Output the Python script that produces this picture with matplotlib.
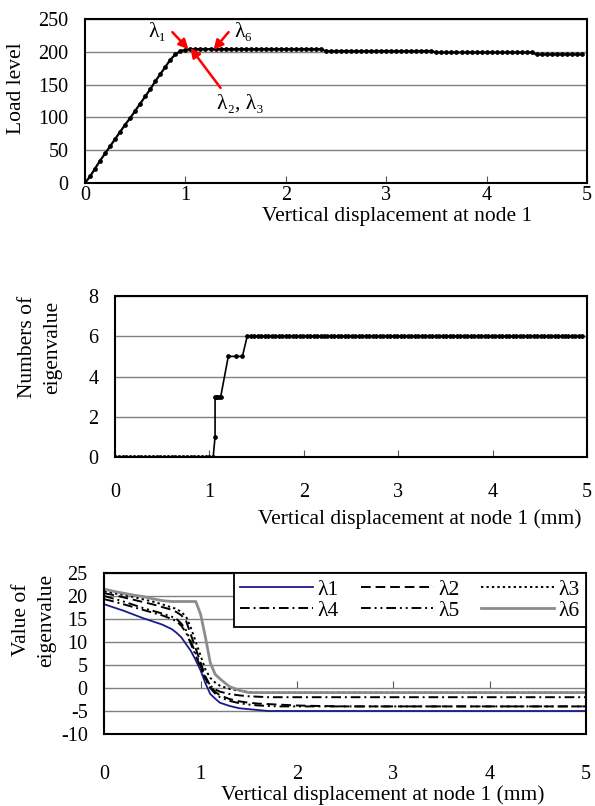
import numpy as np
import matplotlib
matplotlib.use("Agg")
import matplotlib.pyplot as plt

plt.rcParams['font.family'] = ['Liberation Serif', 'DejaVu Serif']
plt.rcParams['axes.unicode_minus'] = False

# ---------------- data ----------------
# Chart 1: load level vs displacement
disp1 = np.round(np.arange(0, 5.0, 0.05), 2)
load1 = [0, 10, 22, 34, 45, 56, 67, 78, 89, 99,
         110, 121, 132, 143, 155, 166, 177, 188, 196, 201,
         203, 204, 204, 204, 204, 204, 204, 204, 204, 204,
         204, 204, 204, 204, 204, 204, 204, 204, 204, 204,
         204, 204, 204, 204, 204, 204, 204, 204, 201, 201,
         201, 201, 201, 201, 201, 201, 201, 201, 201, 201,
         201, 201, 201, 201, 201, 201, 201, 201, 201, 201,
         199, 199, 199, 199, 199, 199, 199, 199, 199, 199,
         199, 199, 199, 199, 199, 199, 199, 199, 199, 199,
         196, 196, 196, 196, 196, 196, 196, 196, 196, 196]

# Chart 2: numbers of (negative) eigenvalues
disp2 = np.concatenate([np.round(np.arange(0, 1.05, 0.04), 2),
                        [1.06, 1.06, 1.07, 1.08, 1.10, 1.12, 1.20, 1.28, 1.35],
                        np.round(np.arange(1.40, 4.97, 0.037), 3)])
count2 = ([0] * len(np.arange(0, 1.05, 0.04))
          + [1, 3, 3, 3, 3, 3, 5, 5, 5]
          + [6] * len(np.arange(1.40, 4.97, 0.037)))

# Chart 3: eigenvalues
disp3 = [0, 0.1, 0.2, 0.3, 0.4, 0.5, 0.6, 0.7, 0.75, 0.8, 0.85, 0.9, 0.95, 1.0,
         1.05, 1.1, 1.15, 1.2, 1.3, 1.4, 1.5, 1.6, 1.7, 1.8, 2.0, 2.2, 2.5, 3.0, 4.0, 5.0]
lam1 = [18.2, 17.5, 16.8, 16.0, 15.2, 14.5, 13.8, 12.8, 12.0, 11.0, 9.5, 8.0, 6.0, 3.8,
        1.0, -1.3, -2.3, -3.2, -3.9, -4.4, -4.6, -4.8, -5, -5, -5, -5, -5, -5, -5, -5]
lam2 = [20.6, 20.2, 19.7, 19.2, 18.7, 18.2, 17.6, 17.0, 16.5, 15.8, 14.5, 11.5, 8.5, 5.5,
        2.5, 0.5, -0.8, -1.6, -2.4, -2.9, -3.2, -3.4, -3.5, -3.6, -3.8, -3.9, -4, -4, -4, -4]
lam3 = [21.0, 20.6, 20.2, 19.8, 19.3, 18.8, 18.2, 17.5, 17.2, 16.5, 15.5, 13.0, 10.0, 7.0,
        4.0, 2.2, 1.2, 0.5, -0.2, -0.6, -0.9, -1, -1, -1, -1, -1, -1, -1, -1, -1]
lam4 = [19.3, 18.8, 18.2, 17.6, 17.0, 16.4, 15.8, 15.0, 14.5, 13.5, 12.0, 9.5, 7.0, 4.5,
        2.0, 0.5, -0.3, -0.8, -1.3, -1.6, -1.8, -1.9, -2, -2, -2, -2, -2, -2, -2, -2]
lam5 = [20.0, 19.4, 18.8, 18.1, 17.4, 16.8, 16.2, 15.5, 15.0, 14.0, 12.5, 10.0, 7.5, 4.8,
        2.0, 0.0, -1.2, -2.0, -2.8, -3.3, -3.6, -3.8, -3.9, -4, -4, -4, -4, -4, -4, -4]
lam6 = [21.5, 21.0, 20.6, 20.2, 19.9, 19.4, 19.0, 18.8, 18.8, 18.8, 18.8, 18.8, 18.8, 16.0,
        11.0, 5.5, 3.0, 2.0, 0.3, -0.5, -1, -1, -1, -1, -1, -1, -1, -1, -1, -1]
lam_labels = ['λ1', 'λ2', 'λ3', 'λ4', 'λ5', 'λ6']

xticks = [0, 1, 2, 3, 4, 5]

# ---------------- figure ----------------
W, H = 595, 806
fig = plt.figure(figsize=(W / 100, H / 100), dpi=100)
TFS = 14.5   # tick labels
LFS = 15.5   # axis labels
GRID = '#808080'


def box(l, t, r, b):
    return [l / W, 1 - b / H, (r - l) / W, (b - t) / H]


def style(ax):
    for s in ax.spines.values():
        s.set_linewidth(1.5)
        s.set_color('black')
    ax.yaxis.grid(True, color=GRID, lw=1)
    ax.set_axisbelow(True)
    ax.tick_params(axis='y', length=0, pad=12, labelsize=TFS)


# Chart 1
ax1 = fig.add_axes(box(85, 19, 587, 183))
ax1.plot(disp1, load1, color='black', lw=1.6, marker='o', ms=2.4)
ax1.set_xlim(0, 5)
ax1.set_ylim(0, 250)
ax1.set_xticks(xticks)
ax1.set_yticks(range(0, 251, 50))
style(ax1)
ax1.tick_params(axis='x', direction='in', length=5, color='#555555', pad=2, labelsize=TFS)
fig.text(397 / W, 1 - 216 / H, 'Vertical displacement at node 1', ha='center', va='center', fontsize=LFS)
fig.text(17 / W, 1 - 88 / H, 'Load level', rotation=90, ha='center', va='center', fontsize=LFS)

arrow = dict(arrowstyle='-|>', color='red', lw=1.8, mutation_scale=14, shrinkA=0, shrinkB=0)
ax1.annotate('', xy=(1.03, 204), xytext=(0.87, 230), arrowprops=arrow, annotation_clip=False)
ax1.annotate('', xy=(1.28, 203), xytext=(1.43, 230), arrowprops=arrow, annotation_clip=False)
ax1.annotate('', xy=(1.05, 206), xytext=(1.35, 145), arrowprops=arrow, annotation_clip=False)
ax1.text(0.72, 229, 'λ₁', ha='center', va='center', fontsize=LFS)
ax1.text(1.58, 229, 'λ₆', ha='center', va='center', fontsize=LFS)
ax1.text(1.55, 120, 'λ₂, λ₃', ha='center', va='center', fontsize=LFS)

# Chart 2
ax2 = fig.add_axes(box(115, 296, 587, 457))
ax2.plot(disp2, count2, color='black', lw=1.2, marker='o', ms=2.4)
ax2.set_xlim(0, 5)
ax2.set_ylim(0, 8)
ax2.set_xticks(xticks)
ax2.set_yticks(range(0, 9, 2))
style(ax2)
ax2.tick_params(axis='x', direction='in', length=5, color='#555555', pad=19, labelsize=TFS)
fig.text(420 / W, 1 - 519 / H, 'Vertical displacement at node 1 (mm)', ha='center', va='center', fontsize=LFS)
fig.text(40 / W, 1 - 347 / H, 'Numbers of\neigenvalue', rotation=90, ha='center', va='center',
         fontsize=LFS, linespacing=1.45)

# Chart 3
ax3 = fig.add_axes(box(104.3, 573, 586, 734))
series = [lam1, lam2, lam3, lam4, lam5, lam6]
styles = [dict(color='#1a1a8c', lw=1.3, ls='-'),
          dict(color='black', lw=1.4, ls=(0, (5, 2.5))),
          dict(color='black', lw=1.4, ls=(0, (1.2, 1.6))),
          dict(color='black', lw=1.4, ls=(0, (5, 2, 1, 2))),
          dict(color='black', lw=1.4, ls=(0, (5, 2, 1, 2, 1, 2))),
          dict(color='#8c8c8c', lw=2.0, ls='-')]
handles = []
for ys, st, lab in zip(series, styles, lam_labels):
    h, = ax3.plot(disp3, ys, label=lab, **st)
    handles.append(h)
ax3.set_xlim(0, 5)
ax3.set_ylim(-10, 25)
ax3.set_xticks(xticks)
ax3.set_yticks(range(-10, 26, 5))
style(ax3)
ax3.tick_params(axis='x', length=0, pad=22, labelsize=TFS)
sec = ax3.secondary_xaxis(10 / 35)
sec.set_xticks(xticks)
sec.tick_params(direction='in', length=5, color='#555555', labelbottom=False)
sec.spines['bottom'].set_visible(False)
order = [0, 3, 1, 4, 2, 5]
leg = ax3.legend([handles[i] for i in order], [lam_labels[i] for i in order], ncol=3,
                 loc='upper right', bbox_to_anchor=(1, 1), borderaxespad=0, fancybox=False,
                 framealpha=1, edgecolor='black', fontsize=LFS, handlelength=3.4,
                 handletextpad=0.2, columnspacing=1.0, labelspacing=0.05, borderpad=0.3)
leg.get_frame().set_linewidth(1.3)
fig.text(383 / W, 1 - 795 / H, 'Vertical displacement at node 1 (mm)', ha='center', va='center', fontsize=LFS)
fig.text(34 / W, 1 - 620 / H, 'Value of\neigenvalue', rotation=90, ha='center', va='center',
         fontsize=LFS, linespacing=1.45)

fig.savefig('out.png', dpi=100)
